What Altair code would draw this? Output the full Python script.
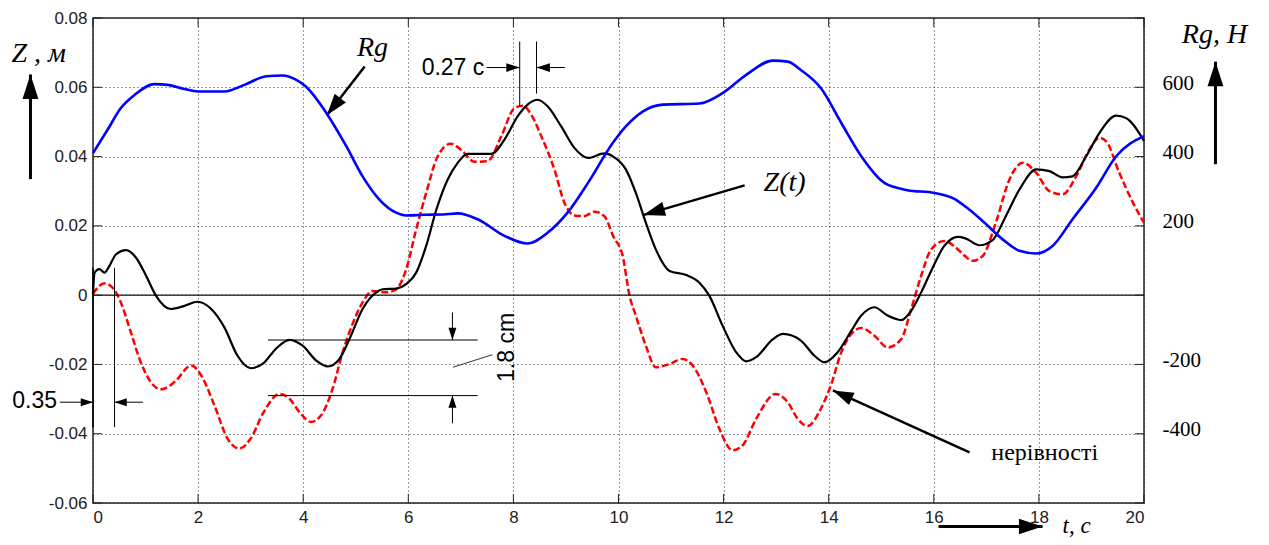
import math
import altair as alt
import pandas as pd

# ---------------- data ----------------
# Z(t) - body displacement, m (black solid)
t_z = [0, 0.03, 0.12, 0.22, 0.31, 0.44, 0.63, 0.82, 1.01, 1.2,
       1.48, 1.74, 1.99, 2.25, 2.5, 2.75, 3.0, 3.24, 3.48, 3.74,
       3.99, 4.25, 4.47, 4.69, 4.88, 5.13, 5.39, 5.51, 5.77, 5.96,
       6.15, 6.34, 6.53, 6.75, 6.94, 7.13, 7.58, 7.83, 8.08, 8.27,
       8.46, 8.65, 8.91, 9.16, 9.42, 9.73, 9.9, 10.14, 10.33, 10.52,
       10.71, 10.97, 11.29, 11.54, 11.73, 11.98, 12.24, 12.43, 12.62, 12.94,
       13.13, 13.47, 13.73, 13.92, 14.17, 14.43, 14.62, 14.87, 15.12, 15.38,
       15.57, 15.76, 15.95, 16.2, 16.46, 16.6, 16.87, 17.12, 17.37, 17.63,
       17.95, 18.2, 18.45, 18.64, 18.9, 19.15, 19.47, 19.66, 20.0]
z_body = [0.0004, 0.0065, 0.0075, 0.0065, 0.0084, 0.0118, 0.0130, 0.0108, 0.0056, -0.0002,
          -0.0040, -0.0031, -0.0019, -0.0040, -0.0093, -0.0175, -0.0211, -0.0197, -0.0155, -0.0129,
          -0.0146, -0.0189, -0.0206, -0.0184, -0.0127, -0.0040, 0.0008, 0.0017, 0.0019, 0.0032,
          0.0065, 0.0142, 0.0245, 0.0334, 0.0382, 0.0408, 0.0408, 0.0449, 0.0516, 0.0550,
          0.0564, 0.0545, 0.0487, 0.0425, 0.0396, 0.0409, 0.0400, 0.0363, 0.0295, 0.0209,
          0.0132, 0.0070, 0.0058, 0.0036, -0.0002, -0.0088, -0.0165, -0.0191, -0.0179, -0.0127,
          -0.0112, -0.0131, -0.0175, -0.0194, -0.0165, -0.0103, -0.0059, -0.0035, -0.0059, -0.0072,
          -0.0045, 0.0008, 0.0070, 0.0142, 0.0168, 0.0164, 0.0144, 0.0159, 0.0228, 0.0305,
          0.0363, 0.0358, 0.0340, 0.0343, 0.0401, 0.0468, 0.0518, 0.0511, 0.0445]

# road irregularities, m (red dashed)
t_road = [0, 0.09, 0.22, 0.37, 0.53, 0.72, 0.91, 1.1, 1.29, 1.55,
          1.87, 2.06, 2.31, 2.56, 2.79, 3.0, 3.24, 3.55, 3.74, 3.93,
          4.15, 4.34, 4.56, 4.75, 4.94, 5.13, 5.32, 5.58, 5.77, 5.96,
          6.15, 6.34, 6.56, 6.81, 7.0, 7.26, 7.51, 7.77, 8.02, 8.18,
          8.34, 8.53, 8.78, 8.97, 9.16, 9.35, 9.54, 9.73, 9.9, 10.08,
          10.21, 10.33, 10.52, 10.71, 10.97, 11.22, 11.41, 11.67, 11.92, 12.17,
          12.36, 12.62, 12.99, 13.22, 13.41, 13.6, 13.85, 14.04, 14.24, 14.43,
          14.62, 14.87, 15.12, 15.38, 15.57, 15.76, 15.95, 16.2, 16.46, 16.6,
          16.74, 16.93, 17.18, 17.44, 17.69, 17.95, 18.2, 18.45, 18.71, 18.96,
          19.15, 19.28, 19.53, 19.79, 20.0]
z_road = [0.0004, 0.0022, 0.0034, 0.0022, -0.0021, -0.0107, -0.0194, -0.0251, -0.0272, -0.0251,
          -0.0203, -0.0232, -0.0318, -0.0414, -0.0443, -0.0414, -0.0340, -0.0285, -0.0299, -0.0338,
          -0.0366, -0.0347, -0.0270, -0.0165, -0.0083, -0.0021, 0.0012, 0.0008, 0.0017, 0.0075,
          0.0190, 0.0295, 0.0401, 0.0437, 0.0420, 0.0385, 0.0387, 0.0459, 0.0540, 0.0547,
          0.0521, 0.0459, 0.0363, 0.0267, 0.0230, 0.0228, 0.0241, 0.0228, 0.0170, 0.0113,
          -0.0002, -0.0059, -0.0146, -0.0208, -0.0199, -0.0184, -0.0203, -0.0280, -0.0386, -0.0448,
          -0.0434, -0.0357, -0.0285, -0.0309, -0.0357, -0.0378, -0.0328, -0.0261, -0.0165, -0.0112,
          -0.0095, -0.0117, -0.0151, -0.0127, -0.0040, 0.0056, 0.0132, 0.0156, 0.0132, 0.0112,
          0.0099, 0.0113, 0.0209, 0.0334, 0.0382, 0.0353, 0.0300, 0.0291, 0.0343, 0.0420,
          0.0454, 0.0444, 0.0353, 0.0267, 0.0209]

# Rg - wheel load, N (blue)
t_rg = [0, 0.28, 0.53, 0.79, 1.17, 1.42, 1.74, 2.0, 2.5, 2.88,
        3.3, 3.61, 3.86, 4.05, 4.44, 4.82, 5.13, 5.45, 5.77, 5.96,
        6.3, 6.66, 6.94, 7.32, 7.83, 8.27, 8.65, 9.03, 9.42, 9.89,
        10.14, 10.46, 10.84, 11.54, 11.98, 12.43, 12.94, 13.22, 13.47, 13.85,
        14.24, 14.62, 15.06, 15.5, 16.01, 16.39, 16.65, 16.93, 17.31, 17.63,
        17.95, 18.26, 18.64, 19.09, 19.47, 20.0]
rg_force = [410, 478, 540, 578, 609, 607, 595, 588, 588, 607,
            632, 634, 622, 602, 526, 430, 343, 276, 238, 230,
            232, 233, 236, 219, 171, 149, 180, 238, 324, 439,
            487, 530, 550, 553, 583, 636, 677, 674, 650, 598,
            497, 401, 324, 303, 295, 278, 250, 214, 161, 128,
            120, 142, 219, 310, 401, 459]

assert len(t_z) == len(z_body)
assert len(t_road) == len(z_road)
assert len(t_rg) == len(rg_force)

x_ticks = [0, 2, 4, 6, 8, 10, 12, 14, 16, 18, 20]
z_ticks = [-0.06, -0.04, -0.02, 0, 0.02, 0.04, 0.06, 0.08]
rg_ticks = [600, 400, 200, -200, -400]

# ---------------- layout ----------------
W, H = 1051, 485
T_DOM = [0, 20]
Z_DOM = [-0.06, 0.08]
RG_DOM = [-600, 800]
KX = W / (T_DOM[1] - T_DOM[0])
KY = H / (Z_DOM[1] - Z_DOM[0])

xs = alt.Scale(domain=T_DOM, nice=False, zero=False)
ys = alt.Scale(domain=Z_DOM, nice=False, zero=False)
rs = alt.Scale(domain=RG_DOM, nice=False, zero=False)

SANS = "Liberation Sans"
SERIF = "Liberation Serif"

X = lambda: alt.X("t:Q", scale=xs)
Y = lambda: alt.Y("Z:Q", scale=ys)

# ---------------- annotations (in t / Z units) ----------------
# plain segments: t, Z, t2, Z2, width
segments = [
    (0.0, 0.0079, 0.0, -0.0381, 1.5),
    (0.41, 0.0079, 0.41, -0.0381, 1.0),
    (8.12, 0.0732, 8.12, 0.0545, 1.0),
    (8.44, 0.0732, 8.44, 0.0582, 1.0),
    (3.33, -0.01295, 7.32, -0.01295, 1.0),
    (3.33, -0.0290, 7.32, -0.0290, 1.0),
    (6.85, -0.0208, 7.60, -0.0172, 0.8),
]
# arrows: t0, Z0, t1 (tip), Z1 (tip), shaft width, head size
arrows = [
    (-0.63, -0.0309, 0.0, -0.0309, 1.0, 150),
    (0.95, -0.0309, 0.41, -0.0309, 1.0, 150),
    (7.49, 0.0657, 8.12, 0.0657, 1.0, 180),
    (8.98, 0.0657, 8.44, 0.0657, 1.0, 180),
    (6.84, -0.0050, 6.84, -0.01295, 1.0, 150),
    (6.84, -0.0370, 6.84, -0.0290, 1.0, 150),
    (5.17, 0.0660, 4.45, 0.0519, 2.5, 480),
    (12.40, 0.0317, 10.47, 0.0231, 2.5, 480),
    (16.68, -0.0454, 14.08, -0.0275, 2.5, 430),
    (-1.19, 0.0335, -1.19, 0.0637, 3.0, 600),
    (21.36, 0.0378, 21.36, 0.0674, 3.0, 600),
    (16.09, -0.0668, 18.07, -0.0668, 3.0, 560),
]

seg_rows = [dict(t=a, Z=b, t2=c, Z2=d, w=w) for a, b, c, d, w in segments]
seg_rows += [dict(t=a, Z=b, t2=c, Z2=d, w=w) for a, b, c, d, w, s in arrows]
seg_df = pd.DataFrame(seg_rows)

head_rows = []
for a, b, c, d, w, s in arrows:
    ang = math.degrees(math.atan2((c - a) * KX, (d - b) * KY)) % 360
    head_rows.append(dict(t=c, Z=d, ang=ang, s=s))
head_df = pd.DataFrame(head_rows)

HEAD = "M0,0L-0.65,2L0.65,2Z"

seg_layer = alt.Chart(seg_df).mark_rule(color="black").encode(
    x=X(), y=Y(), x2="t2:Q", y2="Z2:Q",
    strokeWidth=alt.StrokeWidth("w:Q", scale=None),
)
head_layer = alt.Chart(head_df).mark_point(
    shape=HEAD, filled=True, color="black", opacity=1, strokeWidth=0
).encode(
    x=X(), y=Y(),
    angle=alt.Angle("ang:Q", scale=None),
    size=alt.Size("s:Q", scale=None),
)


def text_layer(rows, font, size, style="normal", angle=0, align="center"):
    df = pd.DataFrame(rows, columns=["label", "t", "Z"])
    return alt.Chart(df).mark_text(
        font=font, fontSize=size, fontStyle=style, align=align,
        baseline="middle", angle=angle, color="black"
    ).encode(x=X(), y=Y(), text="label:N")


txt_italic_c = text_layer([("Rg", 5.32, 0.0712), ("Z(t)", 13.16, 0.0323)], SERIF, 28, "italic")
txt_italic_l = text_layer([("Z , м", -1.55, 0.0697), ("Rg, H", 20.72, 0.0752)],
                          SERIF, 28, "italic", align="left")
txt_tc = text_layer([("t, c", 18.45, -0.0666)], SERIF, 23, "italic", align="left")
txt_serif = text_layer([("нерівності", 18.11, -0.0457)], SERIF, 24)
txt_sans = text_layer([("0.35", -1.11, -0.0307), ("0.27 с", 6.85, 0.0657)], SANS, 23)
txt_rot = text_layer([("1.8 cm", 7.87, -0.0151)], SANS, 23, angle=270)

# ---------------- curves ----------------
road_df = pd.DataFrame({"t": t_road, "Z": z_road})
body_df = pd.DataFrame({"t": t_z, "Z": z_body})
rg_df = pd.DataFrame({"t": t_rg, "Rg": rg_force})

z_axis = alt.Axis(
    values=z_ticks, grid=True, title=None, labelPadding=6,
    labelExpr="datum.value == 0 ? '0' : (datum.value < 0 ? '-' : '') + format(abs(datum.value), '.2f')",
)
t_axis = alt.Axis(values=x_ticks, grid=True, title=None, labelPadding=6,
                  labelExpr="format(datum.value, 'd')")

red = alt.Chart(road_df).mark_line(
    color="#ff0000", strokeWidth=2.5, strokeDash=[7, 3], interpolate="monotone"
).encode(x=alt.X("t:Q", scale=xs, axis=t_axis), y=alt.Y("Z:Q", scale=ys, axis=z_axis))

black = alt.Chart(body_df).mark_line(
    color="black", strokeWidth=2.2, interpolate="monotone"
).encode(x=X(), y=Y())

zero = alt.Chart(pd.DataFrame({"Z": [0]})).mark_rule(color="#111", strokeWidth=1.3).encode(y=Y())

xt_df = pd.DataFrame({"t": x_ticks})
zt_df = pd.DataFrame({"Z": z_ticks})
tick_b = alt.Chart(xt_df).mark_rule(color="#222").encode(x=X(), y=alt.value(H), y2=alt.value(H - 9))
tick_t = alt.Chart(xt_df).mark_rule(color="#222").encode(x=X(), y=alt.value(0), y2=alt.value(9))
tick_l = alt.Chart(zt_df).mark_rule(color="#222").encode(y=Y(), x=alt.value(0), x2=alt.value(9))
tick_r = alt.Chart(zt_df).mark_rule(color="#222").encode(y=Y(), x=alt.value(W), x2=alt.value(W - 9))

z_group = alt.layer(
    red, zero, tick_b, tick_t, tick_l, tick_r, black,
    seg_layer, head_layer,
    txt_italic_c, txt_italic_l, txt_tc, txt_serif, txt_sans, txt_rot,
)

rg_axis = alt.Axis(
    orient="right", values=rg_ticks, grid=False, title=None,
    labelFont=SERIF, labelFontSize=21, labelColor="black", labelPadding=18,
    labelOffset=-4,
    labelExpr="(datum.value < 0 ? '-' : '') + format(abs(datum.value), 'd')",
)
blue = alt.Chart(rg_df).mark_line(
    color="#0000ff", strokeWidth=2.6, interpolate="monotone"
).encode(x=X(), y=alt.Y("Rg:Q", scale=rs, axis=rg_axis))

chart = alt.layer(z_group, blue).resolve_scale(y="independent").properties(
    width=W, height=H,
    autosize=alt.AutoSizeParams(type="none"),
    padding={"left": 85, "top": 10, "right": 115, "bottom": 34},
).configure_view(
    stroke="#222", strokeWidth=1.5
).configure_axis(
    domain=False, ticks=False,
    gridColor="#333", gridDash=[1, 3], gridWidth=1, gridOpacity=1,
    labelFont=SANS, labelFontSize=17, labelColor="#222",
)

chart.save("out.html", embed_options={"renderer": "svg", "actions": False})
